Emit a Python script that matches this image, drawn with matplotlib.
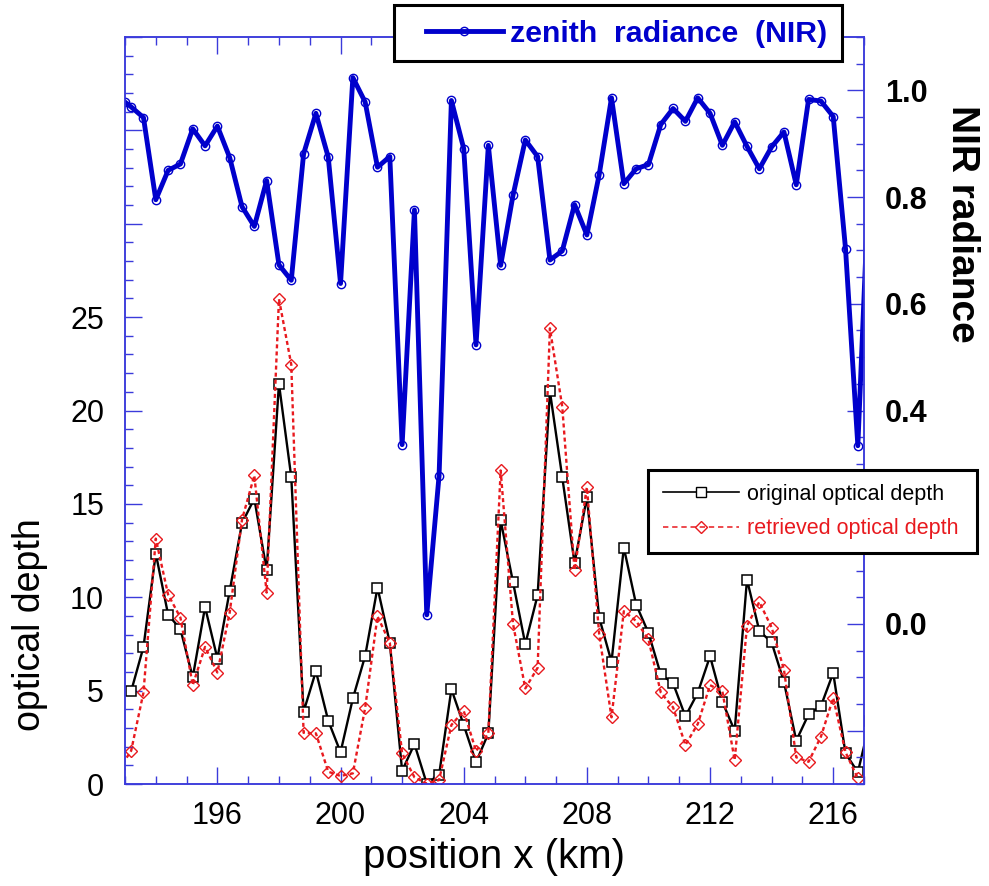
import matplotlib
matplotlib.use('Agg')
import matplotlib.pyplot as plt
from matplotlib.ticker import MultipleLocator, FuncFormatter
from matplotlib.lines import Line2D
from matplotlib.patches import Rectangle

plt.rcParams['font.family'] = ['Liberation Sans', 'DejaVu Sans']

# zenith radiance (NIR), right axis
x_nir = [193.0, 193.2, 193.6, 194.0, 194.4, 194.8, 195.2, 195.6, 196.0, 196.4,
         196.8, 197.2, 197.6, 198.0, 198.4, 198.8, 199.2, 199.6, 200.0, 200.4,
         200.8, 201.2, 201.6, 202.0, 202.4, 202.8, 203.2, 203.6, 204.0, 204.4,
         204.8, 205.2, 205.6, 206.0, 206.4, 206.8, 207.2, 207.6, 208.0, 208.4,
         208.8, 209.2, 209.6, 210.0, 210.4, 210.8, 211.2, 211.6, 212.0, 212.4,
         212.8, 213.2, 213.6, 214.0, 214.4, 214.8, 215.2, 215.6, 216.0, 216.4,
         216.8, 217.2]
nir = [0.978, 0.969, 0.949, 0.795, 0.850, 0.862, 0.928, 0.896, 0.933, 0.874,
       0.782, 0.745, 0.831, 0.673, 0.644, 0.881, 0.957, 0.875, 0.638, 1.024,
       0.978, 0.856, 0.876, 0.336, 0.776, 0.017, 0.278, 0.981, 0.891, 0.523,
       0.897, 0.672, 0.803, 0.907, 0.876, 0.682, 0.699, 0.786, 0.729, 0.842,
       0.986, 0.825, 0.853, 0.861, 0.936, 0.966, 0.942, 0.986, 0.957, 0.897,
       0.941, 0.895, 0.853, 0.894, 0.922, 0.823, 0.983, 0.980, 0.951, 0.703,
       0.334, 0.890]

# original optical depth
x_orig = [193.2, 193.6, 194.0, 194.4, 194.8, 195.2, 195.6, 196.0, 196.4, 196.8,
          197.2, 197.6, 198.0, 198.4, 198.8, 199.2, 199.6, 200.0, 200.4, 200.8,
          201.2, 201.6, 202.0, 202.4, 202.8, 203.2, 203.6, 204.0, 204.4, 204.8,
          205.2, 205.6, 206.0, 206.4, 206.8, 207.2, 207.6, 208.0, 208.4, 208.8,
          209.2, 209.6, 210.0, 210.4, 210.8, 211.2, 211.6, 212.0, 212.4, 212.8,
          213.2, 213.6, 214.0, 214.4, 214.8, 215.2, 215.6, 216.0, 216.4, 216.8,
          217.2]
tau_orig = [4.97, 7.34, 12.34, 9.07, 8.29, 5.71, 9.48, 6.72, 10.34, 13.97,
            15.28, 11.44, 21.43, 16.43, 3.87, 6.04, 3.39, 1.70, 4.58, 6.86,
            10.52, 7.56, 0.71, 2.14, 0.02, 0.48, 5.08, 3.16, 1.17, 2.71,
            14.12, 10.82, 7.49, 10.11, 21.02, 16.43, 11.83, 15.36, 8.91, 6.54,
            12.66, 9.61, 8.09, 5.87, 5.39, 3.62, 4.88, 6.84, 4.40, 2.85,
            10.95, 8.20, 7.58, 5.47, 2.32, 3.73, 4.17, 5.95, 1.64, 0.63,
            3.40]

# retrieved optical depth
x_retr = [192.8, 193.2, 193.6, 194.0, 194.4, 194.8, 195.2, 195.6, 196.0, 196.4,
          196.8, 197.2, 197.6, 198.0, 198.4, 198.8, 199.2, 199.6, 200.0, 200.4,
          200.8, 201.2, 201.6, 202.0, 202.4, 202.8, 203.2, 203.6, 204.0, 204.4,
          204.8, 205.2, 205.6, 206.0, 206.4, 206.8, 207.2, 207.6, 208.0, 208.4,
          208.8, 209.2, 209.6, 210.0, 210.4, 210.8, 211.2, 211.6, 212.0, 212.4,
          212.8, 213.2, 213.6, 214.0, 214.4, 214.8, 215.2, 215.6, 216.0, 216.4,
          216.8]
tau_retr = [0.78, 1.78, 4.90, 13.14, 10.14, 8.91, 5.29, 7.34, 5.97, 9.18,
            14.16, 16.52, 10.25, 25.97, 22.46, 2.74, 2.71, 0.66, 0.43, 0.57,
            4.08, 8.98, 7.56, 1.64, 0.36, 0.02, 0.21, 3.16, 3.92, 1.76,
            2.71, 16.79, 8.59, 5.12, 6.22, 24.40, 20.21, 11.44, 15.90, 8.02,
            3.57, 9.25, 8.73, 7.74, 4.90, 4.10, 2.09, 3.21, 5.29, 4.97,
            1.28, 8.47, 9.75, 8.38, 6.13, 1.43, 1.19, 2.53, 4.61, 1.70,
            0.30]

# right-axis labels that show (0.2 sits under the legend box)
nir_labels = {0.0: '0.0', 0.4: '0.4', 0.6: '0.6', 0.8: '0.8', 1.0: '1.0'}

BLUE = '#0000cc'
AXBLUE = '#3b3bdb'
RED = '#e8191e'
W, H = 989, 886

fig = plt.figure(figsize=(W / 100, H / 100), dpi=100)
ax = fig.add_axes([125 / W, 1 - 784 / H, 739 / W, 747 / H])
ax2 = ax.twinx()

ax.plot(x_orig, tau_orig, color='black', lw=1.7, marker='s', ms=7,
        mfc='white', mec='black', mew=1.1)
ax.plot(x_retr, tau_retr, color=RED, lw=1.7, dashes=(1.7, 1.3), marker='D',
        ms=6, mfc='none', mec=RED, mew=1)
ax2.plot(x_nir, nir, color=BLUE, lw=3.5, marker='o', ms=6, mfc='none',
         mec=BLUE, mew=1)

ax.set_xlim(193, 217)
ax.set_ylim(0, 40)
ax2.set_ylim(-0.3, 1.1)

ax.xaxis.set_major_locator(MultipleLocator(4))
ax.xaxis.set_minor_locator(MultipleLocator(1))
ax.yaxis.set_major_locator(MultipleLocator(5))
ax.yaxis.set_minor_locator(MultipleLocator(1))
ax.yaxis.set_major_formatter(FuncFormatter(lambda v, p: '%d' % round(v) if v < 26 else ''))
ax2.yaxis.set_major_locator(MultipleLocator(0.2))
ax2.yaxis.set_minor_locator(MultipleLocator(0.05))
ax2.yaxis.set_major_formatter(FuncFormatter(lambda v, p: nir_labels.get(round(v, 1) + 0.0, '')))

for a in (ax, ax2):
    for s in a.spines.values():
        s.set_color(AXBLUE)
        s.set_linewidth(1.1)
    a.tick_params(which='both', direction='in', color=AXBLUE, width=1)
    a.tick_params(which='major', length=12)
    a.tick_params(which='minor', length=6)

ax.tick_params(axis='x', which='both', top=True, bottom=True, labelsize=22, pad=12)
ax.tick_params(axis='y', which='both', left=True, right=False, labelsize=22, pad=15)
ax2.tick_params(axis='y', which='both', right=True, left=False, labelsize=22, pad=15)
for t in ax2.get_yticklabels():
    t.set_fontweight('bold')

ax.set_xlabel('position x (km)', fontsize=29, labelpad=5)
ax.set_ylabel('optical depth', fontsize=27)
ax.yaxis.set_label_coords(-0.104, 0.213)
ax2.set_ylabel('NIR radiance', fontsize=28, fontweight='bold', rotation=270, va='bottom')
ax2.yaxis.set_label_coords(1.108, 0.75)

# legend boxes
fig.add_artist(Rectangle((394 / W, 1 - 61 / H), 448 / W, 56 / H, transform=fig.transFigure,
                         fc='white', ec='black', lw=2.2, zorder=4))
fig.add_artist(Rectangle((648 / W, 1 - 553 / H), 329 / W, 83 / H, transform=fig.transFigure,
                         fc='white', ec='black', lw=2.2, zorder=4))

h1 = Line2D([], [], color=BLUE, lw=3.5, marker='o', ms=6, mfc='none', mec=BLUE, mew=1)
fig.legend([h1], ['zenith  radiance  (NIR)'], loc='upper left',
           bbox_to_anchor=(425.7 / W, 1 - 20 / H), frameon=False, borderpad=0,
           borderaxespad=0, handlelength=2.55, handletextpad=0.24, numpoints=1,
           prop={'weight': 'bold', 'size': 21.8}, labelcolor=BLUE)

h2 = Line2D([], [], color='black', lw=1.2, marker='s', ms=7, mfc='white', mec='black')
h3 = Line2D([], [], color=RED, lw=1.1, dashes=(3.5, 2.5), marker='D', ms=6,
            mfc='none', mec=RED)
fig.legend([h2, h3], ['original optical depth', 'retrieved optical depth'],
           loc='upper left', bbox_to_anchor=(663 / W, 1 - 484 / H), frameon=False,
           borderpad=0, borderaxespad=0, handlelength=3.53, handletextpad=0.37,
           labelspacing=0.62, numpoints=1, prop={'size': 15.5},
           labelcolor=['black', RED])

fig.savefig('out.png', dpi=100)
